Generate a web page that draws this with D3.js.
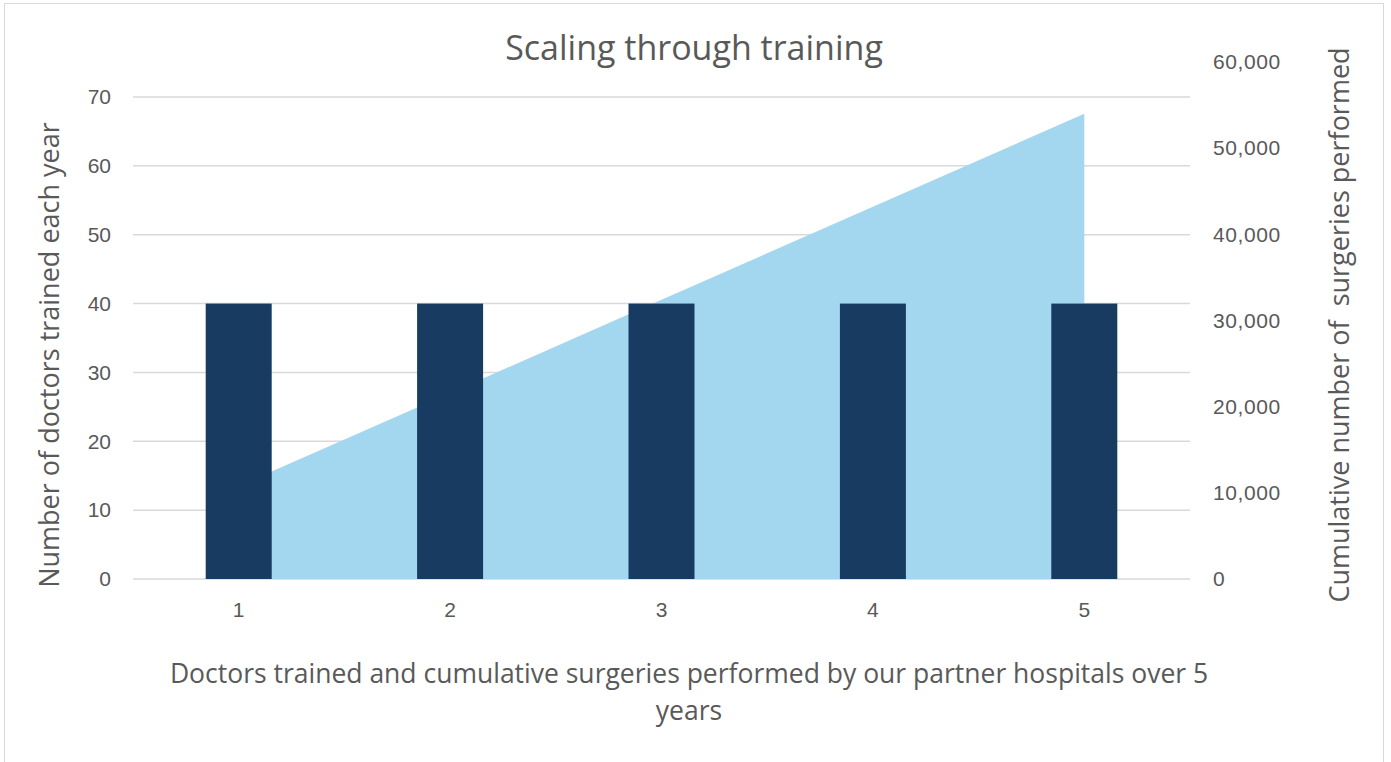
<!DOCTYPE html>
<html>
<head>
<meta charset="utf-8">
<script src="https://cdn.jsdelivr.net/npm/d3@7"></script>
<style>
  body { margin: 0; background: #fff; }
  svg { display: block; }
</style>
</head>
<body>
<script>
// data
const years = ["1", "2", "3", "4", "5"];
const doctorsTrained = [40, 40, 40, 40, 40];
const cumulativeSurgeries = [10800, 21600, 32400, 43200, 54000];
const leftTicks = [0, 10, 20, 30, 40, 50, 60, 70];
const rightTicks = [0, 10000, 20000, 30000, 40000, 50000, 60000];

const W = 1391, H = 762;
const plotLeft = 133, plotRight = 1190, plotBottom = 579, plotTop = 97;
const textColor = "#595959";
const titleFont = "'Open Sans', 'Noto Sans', sans-serif";
const tickFont = "'Liberation Sans', Arial, sans-serif";

const svg = d3.select("body").append("svg")
    .attr("width", W)
    .attr("height", H);

// chart border
svg.append("rect")
    .attr("x", 4.5).attr("y", 3.5)
    .attr("width", 1379).attr("height", 770)
    .attr("fill", "none")
    .attr("stroke", "#d9d9d9");

const x = d3.scaleBand().domain(years).range([plotLeft, plotRight]);
const yL = d3.scaleLinear().domain([0, 70]).range([plotBottom, plotTop]);
const yR = d3.scaleLinear().domain([0, 60000]).range([plotBottom, 62]);

// gridlines
svg.append("g")
    .selectAll("line")
    .data(leftTicks)
    .join("line")
    .attr("x1", plotLeft).attr("x2", plotRight)
    .attr("y1", d => yL(d)).attr("y2", d => yL(d))
    .attr("stroke", "#d9d9d9")
    .attr("stroke-width", 1.5);

// area for cumulative surgeries
const area = d3.area()
    .x((d, i) => x(years[i]) + x.bandwidth() / 2)
    .y0(plotBottom)
    .y1(d => yR(d));

svg.append("path")
    .datum(cumulativeSurgeries)
    .attr("d", area)
    .attr("fill", "#a3d7f0");

// bars for doctors trained
const barW = 66;
svg.append("g")
    .selectAll("rect")
    .data(doctorsTrained)
    .join("rect")
    .attr("x", (d, i) => x(years[i]) + x.bandwidth() / 2 - barW / 2)
    .attr("width", barW)
    .attr("y", d => yL(d))
    .attr("height", d => plotBottom - yL(d))
    .attr("fill", "#183b62");

// left axis
const axL = svg.append("g")
    .attr("transform", `translate(${plotLeft - 22},0)`)
    .call(d3.axisLeft(yL).tickValues(leftTicks).tickSize(0).tickPadding(0));
axL.select(".domain").remove();
axL.selectAll("text")
    .attr("fill", textColor)
    .style("font-family", tickFont)
    .style("font-size", "21px");

// right axis
const axR = svg.append("g")
    .attr("transform", `translate(1213,0)`)
    .call(d3.axisRight(yR).tickValues(rightTicks).tickSize(0).tickPadding(0).tickFormat(d3.format(",")));
axR.select(".domain").remove();
axR.selectAll("text")
    .attr("fill", textColor)
    .style("font-family", tickFont)
    .style("font-size", "21px")
    .style("letter-spacing", "0.6px");

// x axis
const axX = svg.append("g")
    .attr("transform", `translate(0,${plotBottom + 23})`)
    .call(d3.axisBottom(x).tickSize(0).tickPadding(0));
axX.select(".domain").remove();
axX.selectAll("text")
    .attr("fill", textColor)
    .style("font-family", tickFont)
    .style("font-size", "21px");

// title
svg.append("text")
    .attr("x", 694).attr("y", 60)
    .attr("text-anchor", "middle")
    .attr("fill", textColor)
    .style("font-family", titleFont)
    .style("font-size", "34px")
    .text("Scaling through training");

// axis titles
svg.append("text")
    .attr("transform", "translate(59,355) rotate(-90)")
    .attr("text-anchor", "middle")
    .attr("fill", textColor)
    .style("font-family", titleFont)
    .style("font-size", "27px")
    .text("Number of doctors trained each year");

svg.append("text")
    .attr("transform", "translate(1349,325) rotate(-90)")
    .attr("text-anchor", "middle")
    .attr("fill", textColor)
    .style("font-family", titleFont)
    .style("font-size", "27px")
    .style("white-space", "pre")
    .text("Cumulative number of  surgeries performed");

const xTitle = svg.append("text")
    .attr("text-anchor", "middle")
    .attr("fill", textColor)
    .style("font-family", titleFont)
    .style("font-size", "26.5px");
xTitle.append("tspan").attr("x", 689).attr("y", 683)
    .text("Doctors trained and cumulative surgeries performed by our partner hospitals over 5");
xTitle.append("tspan").attr("x", 689).attr("y", 720)
    .text("years");
</script>
</body>
</html>
